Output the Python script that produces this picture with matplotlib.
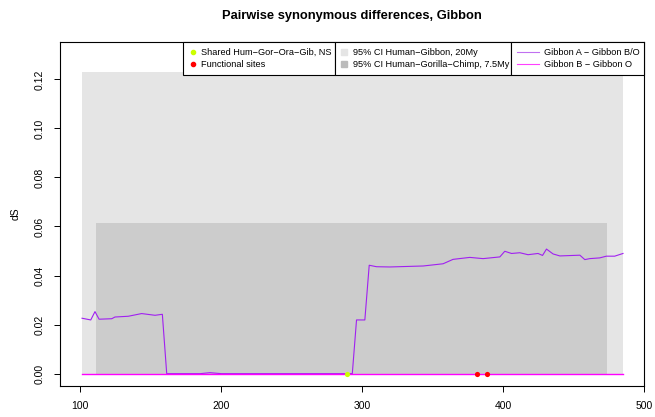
import matplotlib
matplotlib.use('Agg')
import matplotlib.pyplot as plt
from matplotlib.lines import Line2D
from matplotlib.patches import Rectangle

plt.rcParams['font.family'] = ['Liberation Sans', 'DejaVu Sans']

# Gibbon A - Gibbon B/O
pos_a = [101.2, 107.4, 110.4, 113.3, 122.3, 124.6, 134.0, 143.5, 153.0, 158.2,
         161.3, 185.0, 192.0, 200.0, 293.0, 296.0, 301.9, 305.0, 310.2, 319.6,
         343.3, 357.4, 364.5, 376.4, 385.8, 397.7, 401.2, 406.0, 411.9, 417.7,
         424.8, 428.0, 430.8, 435.5, 440.3, 454.5, 458.0, 461.5, 468.6, 473.3,
         479.2, 485.1]
ds_a = [0.0226, 0.0219, 0.0253, 0.0222, 0.0224, 0.0231, 0.0234, 0.0245, 0.0238, 0.0242,
        0.0, 0.0, 0.0004, 0.0, 0.0, 0.0219, 0.0219, 0.0442, 0.0436, 0.0435,
        0.0439, 0.0448, 0.0466, 0.0474, 0.0469, 0.0476, 0.0499, 0.0490, 0.0493, 0.0485,
        0.0490, 0.0482, 0.0508, 0.0488, 0.0480, 0.0483, 0.0465, 0.0469, 0.0472, 0.0479,
        0.0479, 0.0490]

# Gibbon B - Gibbon O
pos_b = [101.2, 200.0, 300.0, 400.0, 485.1]
ds_b = [0.0, 0.0, 0.0, 0.0, 0.0]

# sites
shared_pos = [289.0]
functional_pos = [381.8, 388.9]

# confidence intervals: (start, end, upper dS)
ci_gibbon = (101.2, 485.1, 0.123)
ci_hgc = (111.1, 474.0, 0.0614)

fig = plt.figure(figsize=(6.55, 4.17), dpi=100)
ax = fig.add_axes([0.0921, 0.0751, 0.8911, 0.8235])

ax.add_patch(Rectangle((ci_gibbon[0], 0), ci_gibbon[1] - ci_gibbon[0], ci_gibbon[2],
                       facecolor='#e5e5e5', edgecolor='none', zorder=1))
ax.add_patch(Rectangle((ci_hgc[0], 0), ci_hgc[1] - ci_hgc[0], ci_hgc[2],
                       facecolor='#cccccc', edgecolor='none', zorder=2))

ax.plot(pos_a, ds_a, color='#A020F0', linewidth=0.8, zorder=3)
ax.plot(pos_b, ds_b, color='#FF00FF', linewidth=1.0, zorder=4)
ax.scatter(shared_pos, [0] * len(shared_pos), s=14, color='#CCFF00', zorder=5, linewidths=0)
ax.scatter(functional_pos, [0] * len(functional_pos), s=14, color='#FF0000', zorder=5, linewidths=0)

ax.set_xlim(85.8, 500)
ax.set_ylim(-0.0049, 0.1351)
ax.set_xticks([100, 200, 300, 400, 500])
ax.set_yticks([0.0, 0.02, 0.04, 0.06, 0.08, 0.10, 0.12])
ax.set_yticklabels(['0.00', '0.02', '0.04', '0.06', '0.08', '0.10', '0.12'],
                   rotation=90, va='center')
ax.tick_params(direction='out', length=4.3, width=0.7, labelsize=7.5, pad=7)
for s in ax.spines.values():
    s.set_linewidth(0.8)
ax.set_ylabel('dS', fontsize=7.5, labelpad=10)
ax.set_title('Pairwise synonymous differences, Gibbon', fontsize=9.3, fontweight='bold', pad=17)

leg_kw = dict(fontsize=6.6, frameon=True, fancybox=False, edgecolor='black', framealpha=1,
              borderpad=0.65, labelspacing=0.3, handletextpad=0.5, borderaxespad=0,
              loc='upper left', mode='expand')
top = 1 - 42.3 / 417 - 0.01

h1 = [Line2D([], [], linestyle='none', marker='o', markersize=3, color='#CCFF00'),
      Line2D([], [], linestyle='none', marker='o', markersize=3, color='#FF0000')]
l1 = ax.legend(h1, ['Shared Hum\u2212Gor\u2212Ora\u2212Gib, NS', 'Functional sites'],
               bbox_to_anchor=(183.3 / 655, top, (334.7 - 183.3) / 655, 0.01),
               bbox_transform=fig.transFigure, handlelength=0.8, **leg_kw)
ax.add_artist(l1)

h2 = [Line2D([], [], linestyle='none', marker='s', markersize=4, color='#e5e5e5'),
      Line2D([], [], linestyle='none', marker='s', markersize=4, color='#bbbbbb')]
l2 = ax.legend(h2, ['95% CI Human\u2212Gibbon, 20My', '95% CI Human\u2212Gorilla\u2212Chimp, 7.5My'],
               bbox_to_anchor=(334.7 / 655, top, (511 - 334.7) / 655, 0.01),
               bbox_transform=fig.transFigure, handlelength=0.8, **leg_kw)
ax.add_artist(l2)

h3 = [Line2D([], [], color='#C070F0', linewidth=0.8),
      Line2D([], [], color='#FF40FF', linewidth=0.8)]
l3 = ax.legend(h3, ['Gibbon A \u2212 Gibbon B/O', 'Gibbon B \u2212 Gibbon O'],
               bbox_to_anchor=(511 / 655, top, (644 - 511) / 655, 0.01),
               bbox_transform=fig.transFigure, handlelength=2.4, **leg_kw)
for l in (l1, l2, l3):
    l.get_frame().set_linewidth(0.8)
    l.set_zorder(10)

fig.savefig('out.png', dpi=100)
